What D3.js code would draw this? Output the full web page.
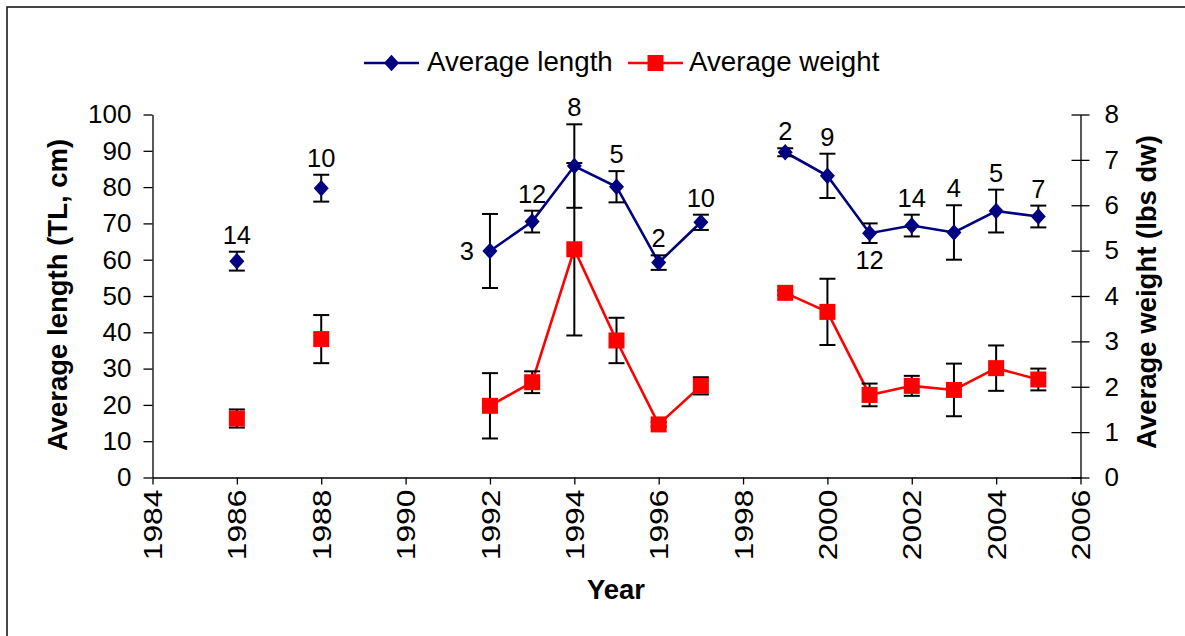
<!DOCTYPE html>
<html>
<head>
<meta charset="utf-8">
<script src="https://cdn.jsdelivr.net/npm/d3@7"></script>
<style>
  body { margin: 0; background: #fff; }
  svg { display: block; }
  text { font-family: Arial, "Liberation Sans", sans-serif; fill: #000; }
</style>
</head>
<body>
<svg id="chart" width="1185" height="636"></svg>
<script>
// Survey years and yearly averages (± error) for length and dressed weight
const years      = [1986, 1988, 1992, 1993, 1994, 1995, 1996, 1997, 1999, 2000, 2001, 2002, 2003, 2004, 2005];
const avgLength  = [59.6, 79.7, 62.4, 70.5, 85.8, 80.1, 59.2, 70.3, 89.6, 83.1, 67.3, 69.4, 67.5, 73.4, 71.9];
const lengthErr  = [2.6, 3.7, 10.2, 3.0, 11.5, 4.3, 2.0, 2.1, 1.1, 6.1, 2.7, 3.0, 7.5, 5.9, 3.0];
const avgWeight  = [1.30, 3.05, 1.58, 2.10, 5.03, 3.02, 1.17, 2.02, 4.07, 3.65, 1.82, 2.02, 1.93, 2.41, 2.16];
const weightErr  = [0.20, 0.53, 0.72, 0.24, 1.90, 0.50, 0.05, 0.19, 0.05, 0.73, 0.25, 0.22, 0.58, 0.50, 0.24];
// Sample size per year, printed next to the length marker
const sampleSize = ["14", "10", "3", "12", "8", "5", "2", "10", "2", "9", "12", "14", "4", "5", "7"];
const labelSide  = ["above", "above", "left", "above", "above", "above", "above", "above",
                    "above", "above", "below", "above", "above", "above", "above"];

const yearTicks   = d3.range(1984, 2007, 2);
const lengthTicks = d3.range(0, 101, 10);
const weightTicks = d3.range(0, 9, 1);

const seriesNames = ["Average length", "Average weight"];
const BLUE = "#000080", RED = "#ff0000";

const svg = d3.select("#chart");

// outer chart frame (only top and left edges fall inside the page)
svg.append("rect")
  .attr("x", 7).attr("y", 7).attr("width", 1400).attr("height", 800)
  .attr("fill", "none").attr("stroke", "#1a1a1a").attr("stroke-width", 1.6);

const x  = d3.scaleLinear().domain([1984, 2006]).range([152.5, 1080.5]);
const yL = d3.scaleLinear().domain([0, 100]).range([477.5, 114.5]);
const yR = d3.scaleLinear().domain([0, 8]).range([477.5, 114.5]);

const rows = years.map((yr, i) => ({
  year: yr, len: avgLength[i], lenErr: lengthErr[i],
  wt: avgWeight[i], wtErr: weightErr[i], n: sampleSize[i], side: labelSide[i]
}));

// ---- axes ----
function styleAxis(g, size) {
  g.selectAll("path.domain").attr("stroke", "#000").attr("stroke-width", 1.3);
  g.selectAll(".tick line").attr("stroke", "#000").attr("stroke-width", 1.3);
  g.selectAll(".tick text").attr("font-size", size).attr("font-family", "Arial, 'Liberation Sans', sans-serif").attr("fill", "#000");
}

const gx = svg.append("g")
  .attr("transform", `translate(0,${yL(0)})`)
  .call(d3.axisBottom(x).tickValues(yearTicks).tickFormat(d3.format("d")).tickSize(7).tickSizeOuter(0));
styleAxis(gx, 26);
// year labels run bottom-to-top, slightly elongated along the reading direction
gx.selectAll(".tick text")
  .attr("transform", "rotate(-90) scale(1.22,1)")
  .attr("text-anchor", "end")
  .attr("x", -10).attr("y", 0).attr("dy", "0.35em");

const gl = svg.append("g")
  .attr("transform", `translate(${x(1984)},0)`)
  .call(d3.axisLeft(yL).tickValues(lengthTicks).tickSize(9).tickPadding(12).tickSizeOuter(0));
styleAxis(gl, 26);

const gr = svg.append("g")
  .attr("transform", `translate(${x(2006)},0)`)
  .call(d3.axisRight(yR).tickValues(weightTicks).tickSize(9).tickPadding(15).tickSizeOuter(0));
styleAxis(gr, 26);
gr.selectAll(".tick line").attr("x1", -9).attr("x2", 9);

// axis titles
svg.append("text")
  .attr("transform", `translate(57,295) rotate(-90)`)
  .attr("text-anchor", "middle").attr("dy", "0.35em")
  .attr("font-size", 27.5).attr("font-weight", "bold")
  .text("Average length (TL, cm)");

svg.append("text")
  .attr("transform", `translate(1146,292) rotate(-90)`)
  .attr("text-anchor", "middle").attr("dy", "0.35em")
  .attr("font-size", 27.5).attr("font-weight", "bold")
  .text("Average weight (lbs dw)");

svg.append("text")
  .attr("x", 616).attr("y", 599)
  .attr("text-anchor", "middle")
  .attr("font-size", 27.5).attr("font-weight", "bold")
  .text("Year");

// ---- series ----
// consecutive survey years are joined; gaps in the record break the line
function segments(data) {
  const out = [];
  let cur = [];
  data.forEach((d, i) => {
    if (i > 0 && d.year - data[i - 1].year > 1) { out.push(cur); cur = []; }
    cur.push(d);
  });
  out.push(cur);
  return out.filter(s => s.length > 1);
}

const lenLine = d3.line().x(d => x(d.year)).y(d => yL(d.len));
const wtLine  = d3.line().x(d => x(d.year)).y(d => yR(d.wt));

const plot = svg.append("g");

plot.selectAll("path.wt").data(segments(rows)).join("path")
  .attr("class", "wt").attr("d", wtLine)
  .attr("fill", "none").attr("stroke", RED).attr("stroke-width", 2.6);

plot.selectAll("path.len").data(segments(rows)).join("path")
  .attr("class", "len").attr("d", lenLine)
  .attr("fill", "none").attr("stroke", BLUE).attr("stroke-width", 2.6);

// error bars
function errorBars(cls, lo, hi) {
  const g = plot.selectAll("g." + cls).data(rows).join("g").attr("class", cls)
    .attr("stroke", "#000").attr("stroke-width", 2);
  g.append("line").attr("x1", d => x(d.year)).attr("x2", d => x(d.year))
    .attr("y1", lo).attr("y2", hi);
  g.append("line").attr("x1", d => x(d.year) - 8).attr("x2", d => x(d.year) + 8)
    .attr("y1", lo).attr("y2", lo);
  g.append("line").attr("x1", d => x(d.year) - 8).attr("x2", d => x(d.year) + 8)
    .attr("y1", hi).attr("y2", hi);
}
errorBars("errW", d => yR(d.wt - d.wtErr), d => yR(d.wt + d.wtErr));
errorBars("errL", d => yL(d.len - d.lenErr), d => yL(d.len + d.lenErr));

// markers
const diamond = (cx, cy, r) => `M${cx},${cy - r - 0.8}L${cx + r},${cy}L${cx},${cy + r + 0.8}L${cx - r},${cy}Z`;

plot.selectAll("rect.wtMark").data(rows).join("rect")
  .attr("class", "wtMark")
  .attr("x", d => x(d.year) - 8).attr("y", d => yR(d.wt) - 8)
  .attr("width", 16).attr("height", 16)
  .attr("fill", RED);

plot.selectAll("path.lenMark").data(rows).join("path")
  .attr("class", "lenMark")
  .attr("d", d => diamond(x(d.year), yL(d.len), 7.5))
  .attr("fill", BLUE);

// sample-size labels
plot.selectAll("text.n").data(rows).join("text")
  .attr("class", "n")
  .attr("font-size", 25.5)
  .attr("text-anchor", d => d.side === "left" ? "end" : "middle")
  .attr("x", d => d.side === "left" ? x(d.year) - 16 : x(d.year))
  .attr("y", d => {
    if (d.side === "left") return yL(d.len) + 9;
    if (d.side === "below") return yL(d.len - d.lenErr) + 26;
    return yL(d.len + d.lenErr) - 8;
  })
  .text(d => d.n);

// ---- legend ----
const legend = svg.append("g").attr("transform", "translate(0,63)");
const legendItems = [
  { name: seriesNames[0], color: BLUE, x0: 364, x1: 419, tx: 427, shape: "diamond" },
  { name: seriesNames[1], color: RED,  x0: 628, x1: 683, tx: 689, shape: "square" }
];
legendItems.forEach(it => {
  legend.append("line").attr("x1", it.x0).attr("x2", it.x1).attr("y1", 0).attr("y2", 0)
    .attr("stroke", it.color).attr("stroke-width", 2.6);
  const cx = (it.x0 + it.x1) / 2;
  if (it.shape === "diamond") {
    legend.append("path").attr("d", diamond(cx, 0, 7.5)).attr("fill", it.color);
  } else {
    legend.append("rect").attr("x", cx - 8).attr("y", -8).attr("width", 16).attr("height", 16).attr("fill", it.color);
  }
  legend.append("text").attr("x", it.tx).attr("y", 8).attr("font-size", 27.7).text(it.name);
});
</script>
</body>
</html>
